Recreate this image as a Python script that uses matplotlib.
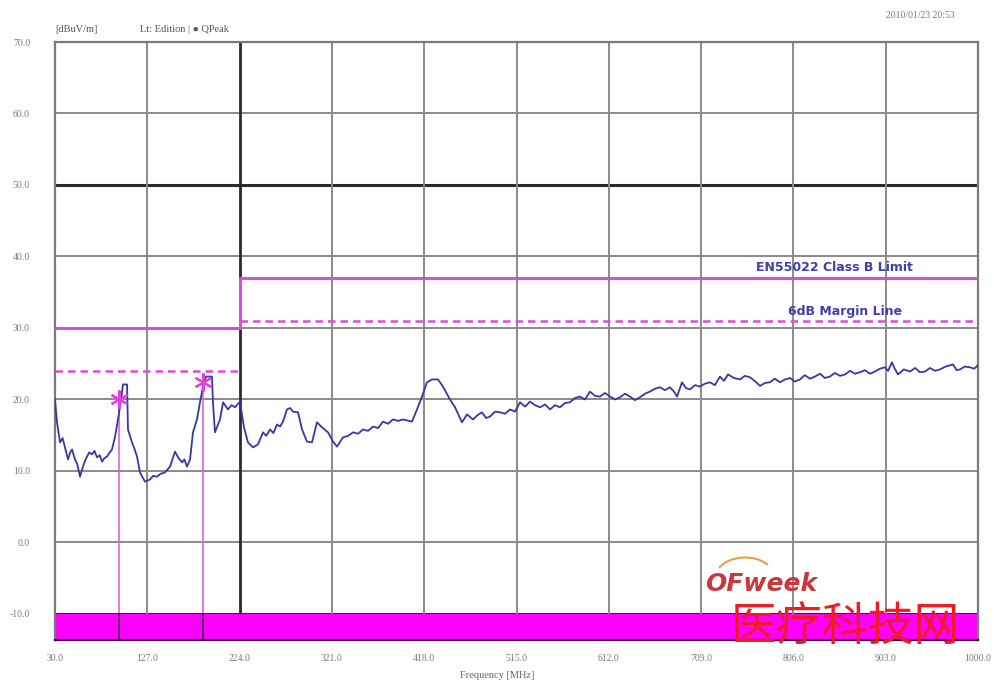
import matplotlib
matplotlib.use("Agg")
import matplotlib.pyplot as plt
from matplotlib.patches import Arc

# measured trace (QPeak), MHz vs dBuV/m
freq = [30.0, 32.1, 35.3, 38.0, 40.5, 43.7, 46.0, 47.9, 51.0, 53.5, 56.3, 59.4, 61.5, 63.6,
        66.0, 68.9, 71.5, 74.1, 77.0, 79.4, 82.0, 84.6, 87.0, 89.9, 93.1, 96.2, 99.4,
        101.5, 105.7, 106.7, 110.9, 113.5, 116.2, 119.3, 122.0, 124.6, 129.8, 133.0, 137.2,
        141.0, 145.6, 150.9, 156.1, 159.3, 163.5, 166.0, 168.7, 171.9, 175.0, 179.2, 182.4,
        185.5, 188.7, 195.0, 196.0, 198.1, 203.4, 206.6, 211.8, 215.5, 219.2, 224.4,
        228.6, 232.8, 238.1, 243.3, 248.6, 252.0, 255.9, 259.5, 263.3, 266.5, 269.6, 273.8,
        277.0, 280.1, 285.4, 289.6, 294.8, 300.1, 305.3, 310.6, 316.9, 322.2, 326.4, 332.7,
        338.0, 343.2, 348.5, 353.7, 359.0, 364.2, 369.5, 374.7, 380.0, 385.2, 390.5, 395.7,
        405.2, 410.4, 415.7, 420.9, 426.2, 432.5, 437.7, 445.1, 450.4, 457.7, 463.0, 469.3,
        474.0, 478.7, 483.0, 487.1, 492.5, 497.7, 503.0, 508.2, 513.5, 518.7, 524.0, 529.2,
        534.5, 539.7, 545.0, 550.2, 555.5, 560.7, 566.0, 571.2, 576.5, 581.7, 587.0, 592.2,
        597.5, 602.7, 608.0, 613.3, 618.5, 623.8, 629.0, 634.3, 639.5, 644.8, 650.0, 655.3,
        660.5, 665.8, 671.0, 676.3, 680.5, 683.7, 688.9, 693.0, 697.3, 702.5, 707.8, 713.0,
        718.3, 723.5, 728.8, 733.0, 737.3, 743.5, 749.9, 755.0, 760.4, 766.0, 771.0, 776.0,
        781.4, 786.5, 792.0, 797.2, 802.5, 807.5, 812.9, 818.0, 823.5, 828.7, 834.0, 839.0,
        844.4, 849.5, 855.0, 860.2, 865.5, 870.5, 876.0, 881.0, 886.5, 891.7, 897.0, 902.2,
        905.5, 909.6, 912.5, 915.9, 922.0, 928.5, 934.0, 939.0, 944.3, 949.5, 955.0, 960.0,
        966.0, 973.7, 977.5, 981.1, 986.0, 991.6, 996.0, 1000.0]
level = [20.0, 16.8, 14.0, 14.6, 13.3, 11.6, 12.6, 13.0, 11.6, 10.9, 9.2, 10.6, 11.4, 12.0,
         12.6, 12.3, 12.8, 11.9, 12.2, 11.3, 11.8, 12.0, 12.5, 13.0, 14.8, 17.2, 20.0,
         22.1, 22.1, 15.8, 14.0, 13.1, 12.0, 9.8, 9.1, 8.5, 8.8, 9.3, 9.2,
         9.6, 9.8, 10.6, 12.7, 11.9, 11.2, 11.6, 10.6, 11.6, 15.4, 17.2, 19.6,
         21.8, 23.2, 23.2, 19.6, 15.4, 17.2, 19.6, 18.6, 19.2, 18.9, 19.7,
         16.1, 14.0, 13.3, 13.7, 15.4, 14.9, 15.8, 15.3, 16.5, 16.2, 16.9, 18.6,
         18.8, 18.3, 18.2, 15.8, 14.1, 14.0, 16.8, 16.1, 15.4, 14.1, 13.4, 14.7,
         14.9, 15.4, 15.2, 15.8, 15.6, 16.2, 16.0, 16.9, 16.6, 17.2, 17.0, 17.2,
         16.9, 18.6, 20.4, 22.4, 22.8, 22.8, 21.8, 20.0, 18.9, 16.8, 17.9, 17.2,
         17.8, 18.2, 17.4, 17.6, 18.3, 18.2, 18.0, 18.6, 18.3, 19.6, 19.0, 19.7,
         19.2, 18.9, 19.3, 18.6, 19.2, 18.9, 19.5, 19.6, 20.2, 20.4, 20.0, 21.1,
         20.5, 20.4, 20.9, 20.4, 20.0, 20.3, 20.8, 20.4, 19.9, 20.3, 20.8, 21.1,
         21.5, 21.7, 21.3, 21.7, 21.1, 20.4, 22.4, 21.6, 21.4, 22.0, 21.8, 22.2,
         22.4, 22.0, 23.2, 22.6, 23.5, 23.0, 22.8, 23.3, 23.1, 22.5, 21.9, 22.3,
         22.4, 22.9, 22.4, 22.8, 23.0, 22.5, 22.8, 23.4, 22.9, 23.2, 23.6, 23.0,
         23.2, 23.7, 23.3, 23.5, 24.0, 23.6, 23.8, 24.1, 23.6, 23.9, 24.3, 24.5,
         24.0, 25.2, 24.3, 23.5, 24.2, 23.9, 24.4, 23.8, 23.9, 24.4, 24.0, 24.2,
         24.6, 24.9, 24.1, 24.2, 24.6, 24.5, 24.3, 24.8]

# EN55022 Class B limit and 6 dB margin
limit_f = [30.0, 224.0, 224.0, 1000.0]
limit_db = [30.0, 30.0, 37.0, 37.0]
margin_low_f = [30.0, 224.0]
margin_low_db = [24.0, 24.0]
margin_high_f = [224.0, 1000.0]
margin_high_db = [31.0, 31.0]

# markers
mark_f = [97.5, 185.5]
mark_db = [20.0, 22.4]

yticks = [70, 60, 50, 40, 30, 20, 10, 0, -10]
ytick_labels = ["70.0", "60.0", "50.0", "40.0", "30.0", "20.0", "10.0", "0.0", "-10.0"]
xticks = [30, 127, 224, 321, 418, 515, 612, 709, 806, 903, 1000]
xtick_labels = ["30.0", "127.0", "224.0", "321.0", "418.0", "515.0", "612.0",
                "709.0", "806.0", "903.0", "1000.0"]

ymin, ymax = -13.65, 70

fig = plt.figure(figsize=(9.95, 6.84), dpi=100)
ax = fig.add_axes([55 / 995, 1 - 640 / 684, 923 / 995, 598 / 684])
ax.set_xlim(30, 1000)
ax.set_ylim(ymin, ymax)

# grid
for y in yticks:
    if y in (50, -10):
        ax.axhline(y, color="#2a2a2a", lw=2.2, zorder=1)
    else:
        ax.axhline(y, color="#8a8a8a", lw=1.4, zorder=1)
for x in xticks[1:-1]:
    if x == 224:
        ax.axvline(x, color="#2a2a2a", lw=2.0, zorder=1)
    else:
        ax.axvline(x, color="#8a8a8a", lw=1.4, zorder=1)

# bottom band
ax.axhspan(ymin, -10, color="#ff00ff", zorder=2, lw=0)

# limit and margin
ax.plot(limit_f, limit_db, color="#dd4add", lw=2.2, zorder=3)
ax.plot(margin_low_f, margin_low_db, color="#dd4add", lw=1.8, ls=(0, (3, 2)), zorder=3)
ax.plot(margin_high_f, margin_high_db, color="#dd4add", lw=1.8, ls=(0, (3, 2)), zorder=3)

# marker lines
for f, d in zip(mark_f, mark_db):
    ax.plot([f, f], [-10, d + 1.2], color="#e060e0", lw=1.2, zorder=3)
    ax.plot([f, f], [ymin, -10], color="#5a005a", lw=1.4, zorder=3)

# trace
ax.plot(freq, level, color="#3838a4", lw=1.3, zorder=4)
ax.plot(mark_f, mark_db, ls="none", marker=(6, 2, 0), ms=13, mew=1.5,
        color="#e040e0", zorder=5)

ax.text(849, 38.4, "EN55022 Class B Limit", color="#4040a8", fontsize=9,
        fontweight="bold", ha="center", va="center", zorder=6)
ax.text(860, 32.3, "6dB Margin Line", color="#4040a8", fontsize=9,
        fontweight="bold", ha="center", va="center", zorder=6)

for s in ax.spines.values():
    s.set_color("#7a7a7a")
    s.set_linewidth(1.6)
ax.spines["bottom"].set_color("#3a003a")

ax.set_yticks(yticks)
ax.set_yticklabels(ytick_labels, family="Liberation Serif", fontsize=7, color="#7a7a7a")
ax.set_xticks(xticks)
ax.set_xticklabels(xtick_labels, family="Liberation Serif", fontsize=7, color="#7a7a7a")
ax.tick_params(axis="y", length=0, pad=18)
ax.tick_params(axis="x", length=0, pad=10)

# header texts
fig.text(55 / 995, 1 - 30 / 684, "[dBuV/m]", family="Liberation Serif", fontsize=7.5,
         color="#555555", va="center")
fig.text(140 / 995, 1 - 30 / 684, "Lt: Edition | \u25cf QPeak", family="Liberation Serif",
         fontsize=7.5, color="#555555", va="center")
fig.text(955 / 995, 1 - 15 / 684, "2010/01/23 20:53", family="Liberation Serif",
         fontsize=7, color="#777777", va="center", ha="right")
fig.text(497 / 995, 1 - 676 / 684, "Frequency [MHz]", family="Liberation Serif",
         fontsize=7.5, color="#666666", ha="center", va="center")

# watermark
fig.text(705 / 995, 1 - 584 / 684, "OFweek", fontsize=18, fontweight="bold",
         fontstyle="italic", color="#c8383c", va="center", family="DejaVu Sans")
arc = Arc((745 / 995, 1 - 578 / 684), 0.06, 0.06, theta1=40, theta2=150,
          transform=fig.transFigure, color="#e8a040", lw=1.5)
fig.add_artist(arc)
fig.text(845 / 995, 1 - 628 / 684, "医疗科技网", fontsize=33, color="#ee1c24",
         family=["Noto Sans CJK SC", "DejaVu Sans"], ha="center", va="center")

fig.savefig("out.png", dpi=100)
